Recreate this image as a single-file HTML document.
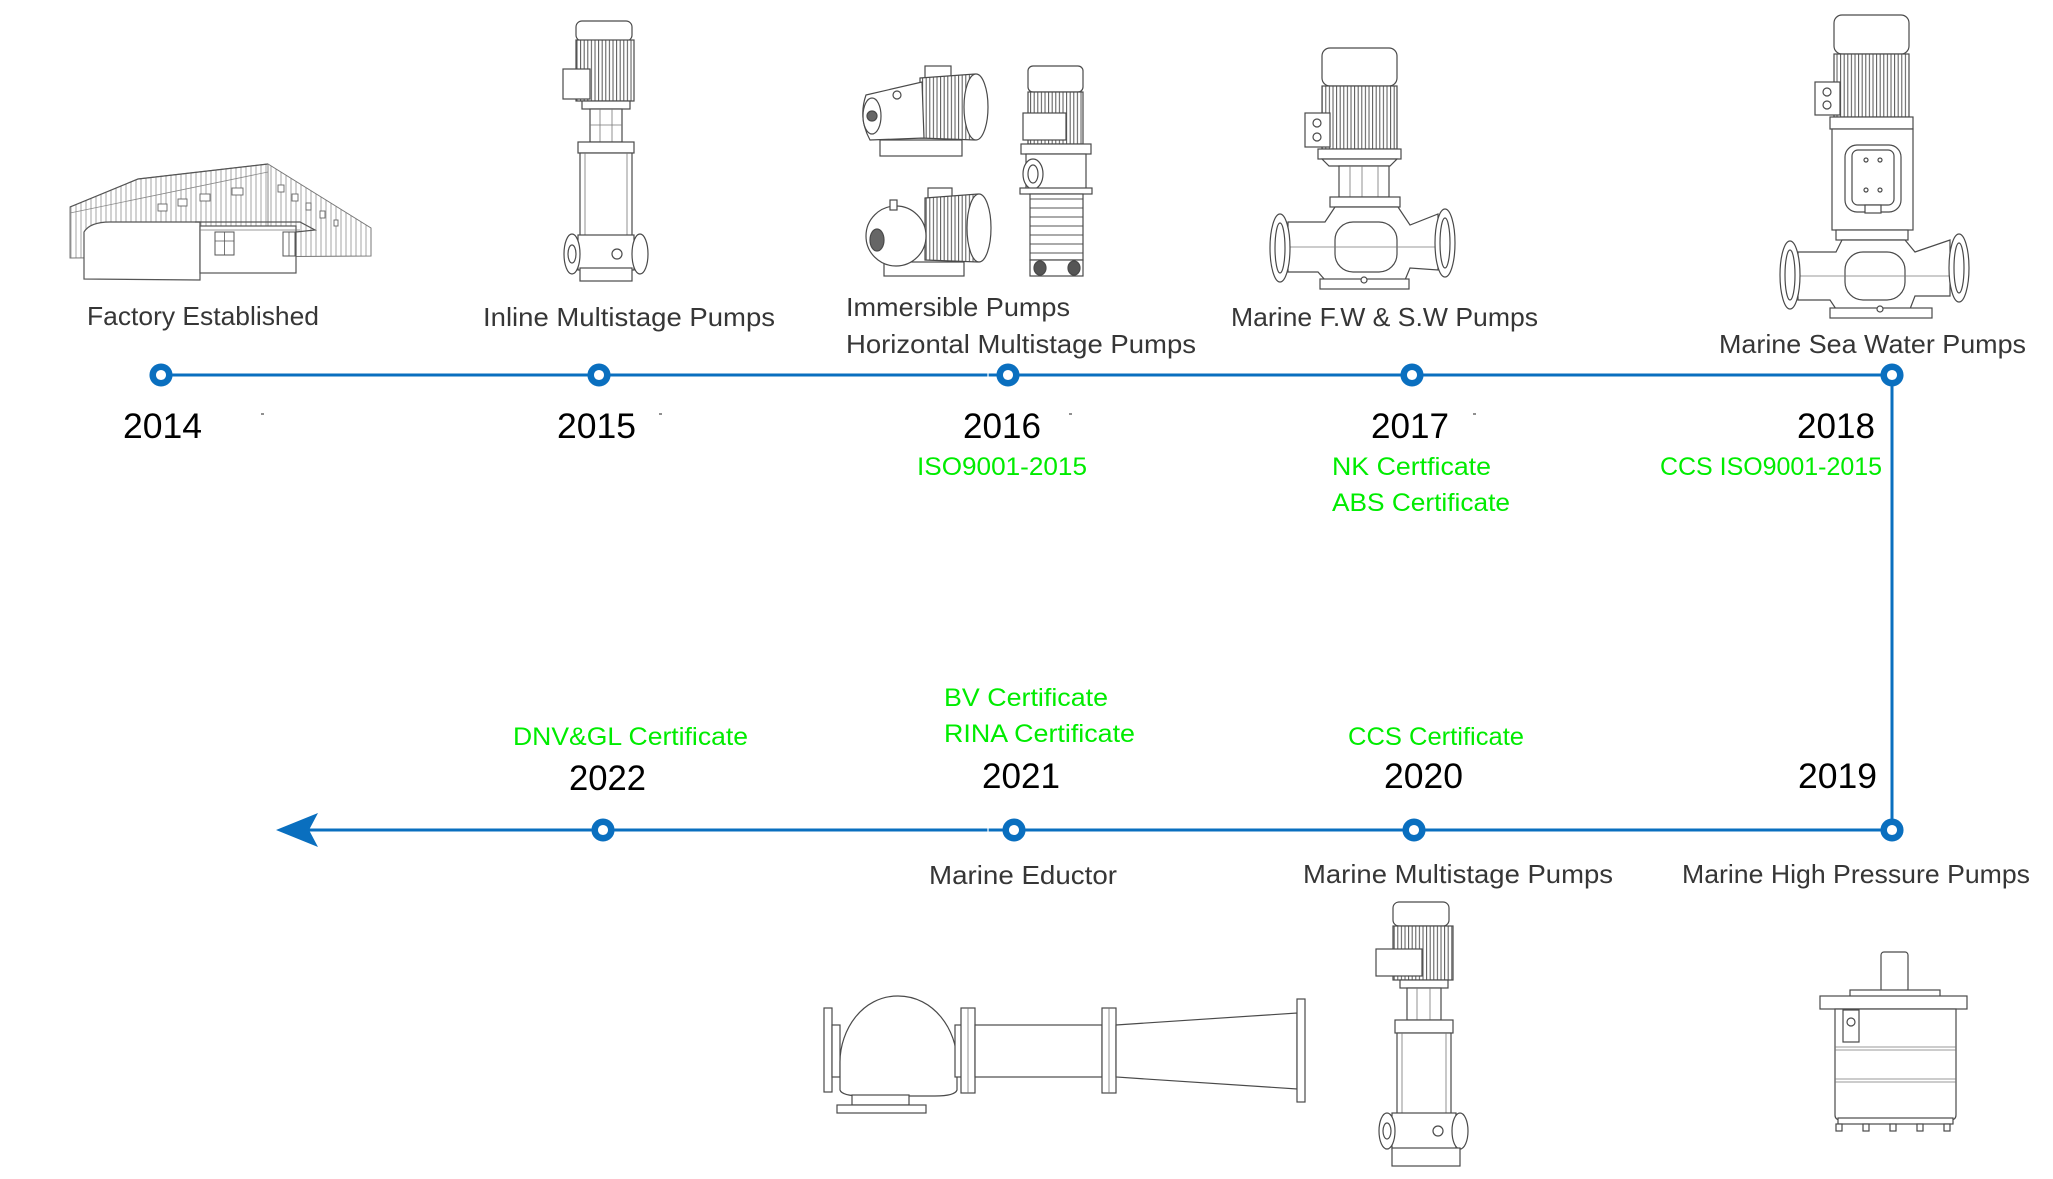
<!DOCTYPE html>
<html>
<head>
<meta charset="utf-8">
<style>
  html,body{margin:0;padding:0;background:#fff;}
  body{width:2053px;height:1179px;overflow:hidden;}
  svg{display:block;}
  .lb{font-family:"Liberation Sans",sans-serif;font-size:26px;fill:#363636;}
  .yr{font-family:"Liberation Sans",sans-serif;font-size:35px;fill:#000;}
  .gr{font-family:"Liberation Sans",sans-serif;font-size:25px;fill:#00ec00;}
  .art{stroke:#4a4a4a;stroke-width:1.2;fill:#fff;}
  .thin{stroke:#777;stroke-width:0.8;fill:none;}
</style>
</head>
<body>
<svg width="2053" height="1179" viewBox="0 0 2053 1179" xmlns="http://www.w3.org/2000/svg">
  <defs>
    <pattern id="fin" x="0" y="0" width="3.6" height="10" patternUnits="userSpaceOnUse">
      <rect width="3.6" height="10" fill="#fff"/>
      <line x1="1" y1="0" x2="1" y2="10" stroke="#555" stroke-width="1"/>
    </pattern>
    <pattern id="rib" x="0" y="0" width="5" height="10" patternUnits="userSpaceOnUse">
      <rect width="5" height="10" fill="#fff"/>
      <line x1="1" y1="0" x2="1" y2="10" stroke="#9a9a9a" stroke-width="0.9"/>
    </pattern>
    <pattern id="stage" x="0" y="0" width="10" height="9" patternUnits="userSpaceOnUse">
      <rect width="10" height="9" fill="#fff"/>
      <line x1="0" y1="1" x2="10" y2="1" stroke="#555" stroke-width="1"/>
    </pattern>
  </defs>

  <!-- ===== Timeline lines ===== -->
  <g stroke="#0a6fbf" stroke-width="3" fill="none">
    <line x1="161" y1="375" x2="1892" y2="375"/>
    <line x1="1892" y1="375" x2="1892" y2="830"/>
    <line x1="1892" y1="830" x2="300" y2="830"/>
  </g>
  <path d="M276 830 L318 813 L309 830 L318 847 Z" fill="#0a6fbf"/>
  <g stroke="#fff" stroke-width="1.2">
    <line x1="988" y1="373" x2="988" y2="377"/>
    <line x1="988" y1="828" x2="988" y2="832"/>
  </g>

  <!-- dots -->
  <g fill="#fff" stroke="#0a6fbf" stroke-width="6.5">
    <circle cx="161" cy="375" r="8.3"/>
    <circle cx="599" cy="375" r="8.3"/>
    <circle cx="1008" cy="375" r="8.3"/>
    <circle cx="1412" cy="375" r="8.3"/>
    <circle cx="1892" cy="375" r="8.3"/>
    <circle cx="1892" cy="830" r="8.3"/>
    <circle cx="1414" cy="830" r="8.3"/>
    <circle cx="1014" cy="830" r="8.3"/>
    <circle cx="603" cy="830" r="8.3"/>
  </g>

  <!-- tiny dashes -->
  <g stroke="#222" stroke-width="1">
    <line x1="261" y1="414" x2="264" y2="414"/>
    <line x1="659" y1="414" x2="662" y2="414"/>
    <line x1="1069" y1="414" x2="1072" y2="414"/>
    <line x1="1473" y1="414" x2="1476" y2="414"/>
  </g>

  <!-- ===== Text: top ===== -->
  <text class="lb" x="87" y="325" textLength="232" lengthAdjust="spacingAndGlyphs">Factory Established</text>
  <text class="lb" x="483" y="326" textLength="292" lengthAdjust="spacingAndGlyphs">Inline Multistage Pumps</text>
  <text class="lb" x="846" y="316" textLength="224" lengthAdjust="spacingAndGlyphs">Immersible Pumps</text>
  <text class="lb" x="846" y="353" textLength="350" lengthAdjust="spacingAndGlyphs">Horizontal Multistage Pumps</text>
  <text class="lb" x="1231" y="326" textLength="307" lengthAdjust="spacingAndGlyphs">Marine F.W &amp; S.W Pumps</text>
  <text class="lb" x="1719" y="353" textLength="307" lengthAdjust="spacingAndGlyphs">Marine Sea Water Pumps</text>

  <text class="yr" x="123" y="438" textLength="79" lengthAdjust="spacingAndGlyphs">2014</text>
  <text class="yr" x="557" y="438" textLength="79" lengthAdjust="spacingAndGlyphs">2015</text>
  <text class="yr" x="963" y="438" textLength="78" lengthAdjust="spacingAndGlyphs">2016</text>
  <text class="yr" x="1371" y="438" textLength="78" lengthAdjust="spacingAndGlyphs">2017</text>
  <text class="yr" x="1797" y="438" textLength="78" lengthAdjust="spacingAndGlyphs">2018</text>

  <text class="gr" x="917" y="475" textLength="170" lengthAdjust="spacingAndGlyphs">ISO9001-2015</text>
  <text class="gr" x="1332" y="475" textLength="159" lengthAdjust="spacingAndGlyphs">NK Certficate</text>
  <text class="gr" x="1332" y="511" textLength="178" lengthAdjust="spacingAndGlyphs">ABS Certificate</text>
  <text class="gr" x="1660" y="475" textLength="222" lengthAdjust="spacingAndGlyphs">CCS ISO9001-2015</text>

  <!-- ===== Text: bottom ===== -->
  <text class="gr" x="513" y="745" textLength="235" lengthAdjust="spacingAndGlyphs">DNV&amp;GL Certificate</text>
  <text class="gr" x="944" y="706" textLength="164" lengthAdjust="spacingAndGlyphs">BV Certificate</text>
  <text class="gr" x="944" y="742" textLength="191" lengthAdjust="spacingAndGlyphs">RINA Certificate</text>
  <text class="gr" x="1348" y="745" textLength="176" lengthAdjust="spacingAndGlyphs">CCS Certificate</text>

  <text class="yr" x="569" y="790" textLength="77" lengthAdjust="spacingAndGlyphs">2022</text>
  <text class="yr" x="982" y="788" textLength="78" lengthAdjust="spacingAndGlyphs">2021</text>
  <text class="yr" x="1384" y="788" textLength="79" lengthAdjust="spacingAndGlyphs">2020</text>
  <text class="yr" x="1798" y="788" textLength="79" lengthAdjust="spacingAndGlyphs">2019</text>

  <text class="lb" x="929" y="884" textLength="188" lengthAdjust="spacingAndGlyphs">Marine Eductor</text>
  <text class="lb" x="1303" y="883" textLength="310" lengthAdjust="spacingAndGlyphs">Marine Multistage Pumps</text>
  <text class="lb" x="1682" y="883" textLength="348" lengthAdjust="spacingAndGlyphs">Marine High Pressure Pumps</text>

  <!-- ===== Factory building ===== -->
  <g>
    <polygon points="70,258 70,207 138,179 268,164 371,228 371,256" fill="url(#rib)" stroke="#777" stroke-width="1"/>
    <polyline points="70,207 138,179 268,164" fill="none" stroke="#555" stroke-width="1.2"/>
    <line x1="268" y1="164" x2="268" y2="226" stroke="#888" stroke-width="1"/>
    <line x1="70" y1="213" x2="268" y2="172" stroke="#888" stroke-width="0.8"/>
    <g fill="#fff" stroke="#666" stroke-width="0.9">
      <rect x="158" y="204" width="9" height="7"/>
      <rect x="178" y="199" width="9" height="7"/>
      <rect x="200" y="194" width="10" height="7"/>
      <rect x="232" y="188" width="11" height="7"/>
      <rect x="278" y="185" width="6" height="7"/>
      <rect x="292" y="194" width="6" height="7"/>
      <rect x="306" y="203" width="5" height="7"/>
      <rect x="320" y="211" width="5" height="7"/>
      <rect x="334" y="220" width="4" height="6"/>
    </g>
    <!-- office -->
    <path d="M84,279 L84,232 Q90,222 110,222 L200,222 L200,280 Z" fill="#fff" stroke="#555" stroke-width="1.2"/>
    <rect x="200" y="226" width="96" height="47" fill="#fff" stroke="#555" stroke-width="1.2"/>
    <polyline points="195,222 300,222 315,230 296,232" fill="none" stroke="#555" stroke-width="1.2"/>
    <line x1="200" y1="230" x2="300" y2="230" stroke="#777" stroke-width="0.8"/>
    <rect x="215" y="232" width="19" height="23" fill="#fff" stroke="#555" stroke-width="1"/>
    <line x1="224.5" y1="232" x2="224.5" y2="255" stroke="#555" stroke-width="0.8"/>
    <line x1="215" y1="241" x2="234" y2="241" stroke="#555" stroke-width="0.8"/>
    <rect x="283" y="232" width="12" height="24" fill="#fff" stroke="#555" stroke-width="1"/>
    <line x1="289" y1="232" x2="289" y2="256" stroke="#555" stroke-width="0.8"/>
  </g>

  <!-- ===== 2015 inline multistage pump ===== -->
  <g class="art">
    <rect x="576" y="21" width="56" height="20" rx="6"/>
    <rect x="576" y="40" width="58" height="61" fill="url(#fin)"/>
    <rect x="563" y="69" width="27" height="30"/>
    <rect x="582" y="101" width="48" height="8"/>
    <rect x="590" y="109" width="32" height="33"/>
    <line class="thin" x1="600" y1="109" x2="600" y2="142"/>
    <line class="thin" x1="612" y1="109" x2="612" y2="142"/>
    <line class="thin" x1="590" y1="125" x2="622" y2="125"/>
    <rect x="578" y="142" width="56" height="11"/>
    <rect x="580" y="153" width="52" height="85"/>
    <line class="thin" x1="585" y1="153" x2="585" y2="238"/>
    <line class="thin" x1="627" y1="153" x2="627" y2="238"/>
    <rect x="578" y="235" width="56" height="35"/>
    <ellipse cx="572" cy="254" rx="8" ry="20"/>
    <ellipse cx="572" cy="254" rx="4" ry="9"/>
    <ellipse cx="640" cy="254" rx="8" ry="20"/>
    <circle cx="617" cy="254" r="5"/>
    <rect x="580" y="268" width="52" height="13"/>
  </g>

  <!-- ===== 2016 horizontal pumps ===== -->
  <g class="art">
    <rect x="880" y="140" width="82" height="16"/>
    <rect x="925" y="66" width="26" height="16"/>
    <path d="M920,78 L975,74 Q992,105 975,140 L920,138 Z" fill="url(#fin)"/>
    <ellipse cx="976" cy="107" rx="12" ry="33"/>
    <path d="M866,95 L922,82 L924,138 L870,140 Q858,118 866,95 Z"/>
    <ellipse cx="872" cy="116" rx="9" ry="18"/>
    <circle cx="872" cy="116" r="5" fill="#666"/>
    <circle cx="897" cy="95" r="4"/>
    <rect x="884" y="262" width="80" height="14"/>
    <rect x="928" y="188" width="24" height="15"/>
    <path d="M925,198 L978,194 Q995,228 978,262 L925,260 Z" fill="url(#fin)"/>
    <ellipse cx="979" cy="228" rx="12" ry="34"/>
    <ellipse cx="896" cy="236" rx="30" ry="30"/>
    <ellipse cx="877" cy="240" rx="7" ry="11" fill="#666"/>
    <rect x="890" y="200" width="7" height="10"/>
  </g>

  <!-- ===== 2016 vertical pump ===== -->
  <g class="art">
    <rect x="1028" y="66" width="55" height="26" rx="5"/>
    <rect x="1028" y="92" width="55" height="52" fill="url(#fin)"/>
    <rect x="1023" y="113" width="43" height="27"/>
    <rect x="1021" y="144" width="70" height="10"/>
    <rect x="1026" y="154" width="60" height="38"/>
    <ellipse cx="1033" cy="174" rx="10" ry="15"/>
    <ellipse cx="1033" cy="174" rx="5" ry="9"/>
    <rect x="1020" y="188" width="72" height="6"/>
    <rect x="1030" y="194" width="53" height="66" fill="url(#stage)"/>
    <rect x="1030" y="260" width="53" height="16"/>
    <ellipse cx="1040" cy="268" rx="6" ry="7" fill="#555"/>
    <ellipse cx="1074" cy="268" rx="6" ry="7" fill="#555"/>
  </g>

  <!-- ===== 2017 Marine F.W & S.W pump ===== -->
  <g class="art">
    <rect x="1322" y="48" width="75" height="38" rx="8"/>
    <rect x="1322" y="86" width="75" height="63" fill="url(#fin)"/>
    <rect x="1305" y="113" width="25" height="34"/>
    <circle cx="1317" cy="123" r="4"/>
    <circle cx="1317" cy="137" r="4"/>
    <rect x="1318" y="149" width="83" height="10"/>
    <path d="M1322,159 L1397,159 L1390,166 L1329,166 Z"/>
    <rect x="1339" y="166" width="50" height="31"/>
    <line class="thin" x1="1350" y1="166" x2="1350" y2="197"/>
    <line class="thin" x1="1362" y1="166" x2="1362" y2="197"/>
    <line class="thin" x1="1378" y1="166" x2="1378" y2="197"/>
    <rect x="1330" y="197" width="70" height="10"/>
    <path d="M1288,222 L1325,222 L1335,207 L1398,207 L1410,225 L1438,214 L1438,270 L1410,268 L1405,280 L1325,280 L1318,272 L1288,272 Z"/>
    <rect x="1335" y="222" width="62" height="50" rx="18"/>
    <line class="thin" x1="1290" y1="247" x2="1438" y2="247"/>
    <ellipse cx="1280" cy="248" rx="10" ry="34"/>
    <ellipse cx="1280" cy="248" rx="5" ry="25"/>
    <ellipse cx="1445" cy="243" rx="10" ry="34"/>
    <ellipse cx="1445" cy="243" rx="5" ry="25"/>
    <rect x="1320" y="279" width="89" height="10"/>
    <circle cx="1364" cy="280" r="3"/>
  </g>

  <!-- ===== 2018 Marine Sea Water pump ===== -->
  <g class="art">
    <rect x="1834" y="15" width="75" height="39" rx="8"/>
    <rect x="1834" y="54" width="75" height="63" fill="url(#fin)"/>
    <rect x="1815" y="82" width="25" height="33"/>
    <circle cx="1827" cy="92" r="4"/>
    <circle cx="1827" cy="105" r="4"/>
    <rect x="1830" y="117" width="83" height="12"/>
    <rect x="1832" y="129" width="81" height="101"/>
    <rect x="1845" y="145" width="56" height="67" rx="12"/>
    <rect x="1852" y="150" width="42" height="55" rx="6"/>
    <circle cx="1866" cy="160" r="2"/><circle cx="1880" cy="160" r="2"/>
    <circle cx="1866" cy="190" r="2"/><circle cx="1880" cy="190" r="2"/>
    <rect x="1865" y="205" width="16" height="8"/>
    <rect x="1836" y="230" width="72" height="10"/>
    <path d="M1798,252 L1836,252 L1842,240 L1905,240 L1915,252 L1950,240 L1950,296 L1915,296 L1910,309 L1836,309 L1830,300 L1798,300 Z"/>
    <rect x="1845" y="252" width="60" height="48" rx="18"/>
    <line class="thin" x1="1800" y1="276" x2="1950" y2="276"/>
    <ellipse cx="1790" cy="275" rx="10" ry="34"/>
    <ellipse cx="1790" cy="275" rx="5" ry="25"/>
    <ellipse cx="1959" cy="268" rx="10" ry="34"/>
    <ellipse cx="1959" cy="268" rx="5" ry="25"/>
    <rect x="1830" y="308" width="102" height="10"/>
    <circle cx="1880" cy="309" r="3"/>
  </g>

  <!-- ===== 2021 Marine Eductor ===== -->
  <g class="art" stroke-width="1.4">
    <rect x="824" y="1008" width="8" height="84"/>
    <rect x="832" y="1025" width="8" height="52"/>
    <path d="M840,1090 L840,1062 C840,1030 862,996 898,996 C934,996 957,1030 957,1062 L957,1090 Q955,1096 935,1096 L862,1096 Q842,1096 840,1090 Z"/>
    <rect x="852" y="1095" width="57" height="10"/>
    <rect x="837" y="1105" width="89" height="8"/>
    <rect x="955" y="1025" width="7" height="52"/>
    <rect x="961" y="1008" width="14" height="85"/>
    <line class="thin" x1="968" y1="1008" x2="968" y2="1093"/>
    <rect x="975" y="1025" width="127" height="52"/>
    <rect x="1102" y="1008" width="14" height="85"/>
    <line class="thin" x1="1109" y1="1008" x2="1109" y2="1093"/>
    <path d="M1116,1025 L1297,1013 L1297,1089 L1116,1077 Z"/>
    <rect x="1297" y="999" width="8" height="103"/>
  </g>

  <!-- ===== 2020 Marine Multistage pump ===== -->
  <g class="art">
    <rect x="1393" y="902" width="56" height="24" rx="6"/>
    <rect x="1393" y="926" width="60" height="54" fill="url(#fin)"/>
    <rect x="1376" y="949" width="46" height="27"/>
    <rect x="1400" y="980" width="48" height="8"/>
    <rect x="1407" y="988" width="34" height="32"/>
    <line class="thin" x1="1417" y1="988" x2="1417" y2="1020"/>
    <line class="thin" x1="1430" y1="988" x2="1430" y2="1020"/>
    <rect x="1395" y="1020" width="58" height="13"/>
    <rect x="1397" y="1033" width="54" height="82"/>
    <line class="thin" x1="1402" y1="1033" x2="1402" y2="1115"/>
    <line class="thin" x1="1446" y1="1033" x2="1446" y2="1115"/>
    <rect x="1392" y="1113" width="64" height="36"/>
    <ellipse cx="1387" cy="1131" rx="8" ry="18"/>
    <ellipse cx="1387" cy="1131" rx="4" ry="8"/>
    <ellipse cx="1460" cy="1131" rx="8" ry="18"/>
    <circle cx="1438" cy="1131" r="5"/>
    <rect x="1392" y="1148" width="68" height="18"/>
  </g>

  <!-- ===== 2019 Marine High Pressure pump ===== -->
  <g class="art">
    <rect x="1881" y="952" width="27" height="40" rx="3"/>
    <rect x="1850" y="990" width="90" height="7"/>
    <rect x="1820" y="996" width="147" height="13"/>
    <path d="M1835,1009 L1956,1009 L1956,1115 Q1956,1120 1950,1120 L1841,1120 Q1835,1120 1835,1115 Z"/>
    <line class="thin" x1="1835" y1="1047" x2="1956" y2="1047"/>
    <line class="thin" x1="1835" y1="1050" x2="1956" y2="1050"/>
    <line class="thin" x1="1835" y1="1079" x2="1956" y2="1079"/>
    <line class="thin" x1="1835" y1="1082" x2="1956" y2="1082"/>
    <rect x="1843" y="1010" width="16" height="32"/>
    <circle cx="1851" cy="1022" r="4"/>
    <rect x="1838" y="1118" width="115" height="6"/>
    <rect x="1836" y="1124" width="6" height="7"/>
    <rect x="1863" y="1124" width="6" height="7"/>
    <rect x="1890" y="1124" width="6" height="7"/>
    <rect x="1917" y="1124" width="6" height="7"/>
    <rect x="1944" y="1124" width="6" height="7"/>
  </g>
</svg>
</body>
</html>
